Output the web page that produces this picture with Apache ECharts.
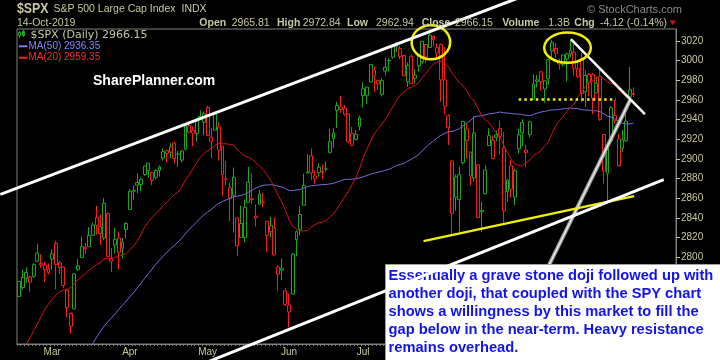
<!DOCTYPE html>
<html><head><meta charset="utf-8">
<script src="https://cdn.jsdelivr.net/npm/echarts@6/dist/echarts.min.js"></script>
<style>html,body{margin:0;padding:0;background:#000;}#c{width:720px;height:360px;}</style>
</head><body><div id="c"></div>
<script>
// ---------- data ----------
const dates = [
'2019-02-15','2019-02-19','2019-02-20','2019-02-21','2019-02-22','2019-02-25','2019-02-26','2019-02-27','2019-02-28',
'2019-03-01','2019-03-04','2019-03-05','2019-03-06','2019-03-07','2019-03-08','2019-03-11','2019-03-12','2019-03-13','2019-03-14','2019-03-15','2019-03-18','2019-03-19','2019-03-20','2019-03-21','2019-03-22','2019-03-25','2019-03-26','2019-03-27','2019-03-28','2019-03-29',
'2019-04-01','2019-04-02','2019-04-03','2019-04-04','2019-04-05','2019-04-08','2019-04-09','2019-04-10','2019-04-11','2019-04-12','2019-04-15','2019-04-16','2019-04-17','2019-04-18','2019-04-22','2019-04-23','2019-04-24','2019-04-25','2019-04-26','2019-04-29','2019-04-30',
'2019-05-01','2019-05-02','2019-05-03','2019-05-06','2019-05-07','2019-05-08','2019-05-09','2019-05-10','2019-05-13','2019-05-14','2019-05-15','2019-05-16','2019-05-17','2019-05-20','2019-05-21','2019-05-22','2019-05-23','2019-05-24','2019-05-28','2019-05-29','2019-05-30','2019-05-31',
'2019-06-03','2019-06-04','2019-06-05','2019-06-06','2019-06-07','2019-06-10','2019-06-11','2019-06-12','2019-06-13','2019-06-14','2019-06-17','2019-06-18','2019-06-19','2019-06-20','2019-06-21','2019-06-24','2019-06-25','2019-06-26','2019-06-27','2019-06-28',
'2019-07-01','2019-07-02','2019-07-03','2019-07-05','2019-07-08','2019-07-09','2019-07-10','2019-07-11','2019-07-12','2019-07-15','2019-07-16','2019-07-17','2019-07-18','2019-07-19','2019-07-22','2019-07-23','2019-07-24','2019-07-25','2019-07-26','2019-07-29','2019-07-30','2019-07-31',
'2019-08-01','2019-08-02','2019-08-05','2019-08-06','2019-08-07','2019-08-08','2019-08-09','2019-08-12','2019-08-13','2019-08-14','2019-08-15','2019-08-16','2019-08-19','2019-08-20','2019-08-21','2019-08-22','2019-08-23','2019-08-26','2019-08-27','2019-08-28','2019-08-29','2019-08-30',
'2019-09-03','2019-09-04','2019-09-05','2019-09-06','2019-09-09','2019-09-10','2019-09-11','2019-09-12','2019-09-13','2019-09-16','2019-09-17','2019-09-18','2019-09-19','2019-09-20','2019-09-23','2019-09-24','2019-09-25','2019-09-26','2019-09-27','2019-09-30',
'2019-10-01','2019-10-02','2019-10-03','2019-10-04','2019-10-07','2019-10-08','2019-10-09','2019-10-10','2019-10-11','2019-10-14'];

const opens = [
2760.24,2769.28,2779.05,2780.24,2780.67,2804.35,2792.36,2787.50,2788.11,
2798.22,2814.37,2794.41,2790.27,2766.53,2730.05,2747.61,2787.34,2799.78,2810.38,2810.79,2822.61,2840.76,2831.34,2819.72,2844.52,2796.01,2812.66,2819.72,2809.40,2828.27,
2848.63,2868.24,2876.09,2873.99,2884.16,2888.46,2886.58,2881.37,2891.92,2900.86,2908.32,2912.26,2916.04,2904.81,2898.78,2909.99,2934.00,2928.99,2925.81,2940.58,2937.14,
2952.33,2922.16,2929.21,2908.89,2913.03,2879.61,2859.84,2863.10,2840.19,2820.12,2820.38,2855.80,2858.60,2841.94,2854.02,2856.06,2836.70,2832.41,2830.03,2790.25,2786.94,2766.15,
2751.53,2762.64,2818.09,2828.51,2852.87,2885.83,2903.27,2882.73,2886.24,2886.82,2889.75,2906.71,2920.55,2949.60,2952.71,2951.42,2945.78,2926.07,2919.66,2932.94,
2971.41,2964.66,2978.08,2984.25,2979.77,2965.52,2989.30,2999.62,3003.36,3017.80,3012.13,3005.10,2978.87,3004.26,2981.93,2994.74,2998.77,3016.26,3013.25,3024.47,3007.66,3016.22,
2980.32,2943.90,2898.07,2861.18,2858.65,2896.21,2930.51,2907.07,2880.72,2894.15,2846.20,2864.74,2913.48,2919.01,2922.04,2930.94,2911.07,2866.70,2893.14,2861.28,2910.37,2937.09,
2909.01,2924.67,2960.60,2980.33,2988.43,2971.01,2981.41,3018.21,3012.21,2996.41,2995.67,3001.50,3010.36,3008.42,2983.50,3002.43,2968.35,2985.73,2985.47,2967.07,
2983.69,2924.78,2885.38,2918.56,2944.23,2920.40,2911.10,2918.55,2963.07,2965.81];

const highs = [
2775.66,2787.33,2789.88,2781.58,2794.20,2813.49,2803.12,2795.76,2793.73,
2808.02,2816.88,2796.44,2790.27,2767.25,2744.13,2784.00,2798.32,2821.24,2815.00,2830.73,2835.41,2852.42,2843.54,2860.31,2846.16,2809.79,2829.87,2825.56,2819.71,2836.03,
2869.40,2872.90,2885.25,2881.28,2893.24,2895.95,2886.88,2889.71,2893.42,2910.54,2909.60,2916.06,2918.00,2908.40,2909.51,2936.31,2936.83,2933.10,2939.88,2949.52,2948.22,
2954.13,2931.68,2947.85,2937.32,2913.03,2897.96,2875.97,2891.31,2840.19,2852.54,2858.68,2892.15,2885.48,2853.86,2868.88,2865.47,2836.70,2841.36,2840.51,2792.03,2799.00,2768.98,
2763.07,2804.49,2827.28,2852.10,2884.97,2904.77,2910.61,2888.57,2895.24,2894.45,2897.27,2930.79,2931.74,2958.06,2964.15,2954.92,2946.52,2932.59,2929.30,2943.98,
2977.93,2973.21,2995.84,2994.03,2980.76,2981.90,3002.98,3002.33,3013.92,3017.80,3015.02,3005.26,2998.28,3006.02,2990.71,3005.90,3019.59,3016.31,3027.98,3025.61,3017.19,3017.40,
3013.59,2945.50,2898.07,2884.40,2892.17,2938.72,2935.75,2907.58,2943.31,2894.15,2856.67,2893.63,2931.00,2923.63,2928.73,2939.08,2927.01,2879.27,2898.79,2890.03,2930.50,2940.43,
2914.39,2938.84,2985.86,2985.03,2989.43,2979.39,3000.93,3020.74,3017.33,3002.19,3006.21,3007.83,3021.19,3016.37,2999.15,3007.98,2989.82,2987.28,2987.31,2983.85,
2992.53,2924.78,2911.13,2953.74,2959.75,2925.47,2929.32,2948.46,2993.28,2972.84];

const lows = [
2760.24,2767.29,2774.06,2764.55,2779.11,2794.99,2789.47,2775.13,2782.51,
2787.38,2767.66,2782.97,2768.69,2739.09,2722.27,2747.61,2786.73,2799.78,2803.46,2810.79,2821.99,2823.27,2812.43,2817.38,2800.47,2785.02,2803.99,2787.72,2798.77,2819.23,
2848.63,2858.75,2865.17,2867.14,2882.99,2880.78,2873.33,2879.13,2881.99,2898.37,2896.48,2900.71,2895.45,2891.90,2896.35,2908.53,2926.05,2912.84,2917.56,2939.35,2924.11,
2923.36,2900.50,2929.21,2898.21,2862.60,2873.28,2836.40,2825.39,2801.43,2820.12,2815.08,2855.80,2854.23,2831.29,2854.02,2851.11,2805.49,2820.19,2801.58,2766.06,2776.74,2750.52,
2728.81,2762.64,2800.92,2822.45,2852.87,2885.51,2878.53,2874.68,2881.99,2879.62,2887.30,2905.44,2911.43,2931.50,2946.87,2944.05,2916.01,2912.99,2918.57,2929.05,
2952.22,2955.92,2977.96,2967.97,2970.09,2963.44,2984.62,2988.80,3001.87,3008.77,3001.15,2984.25,2973.09,2975.86,2976.65,2988.56,2996.82,2997.24,3012.59,3014.30,3000.94,2958.08,
2945.23,2914.11,2822.12,2847.42,2825.71,2894.47,2900.15,2873.14,2877.05,2839.64,2825.51,2864.74,2913.48,2899.60,2917.91,2904.51,2834.97,2856.00,2860.59,2853.05,2905.67,2913.32,
2891.85,2921.86,2960.60,2972.51,2969.39,2957.01,2975.31,3000.92,3002.90,2990.67,2993.73,2978.57,3003.16,2984.68,2982.23,2957.73,2952.86,2963.71,2945.53,2967.07,
2938.70,2874.93,2855.94,2918.56,2935.68,2892.66,2907.41,2917.12,2963.07,2962.94];

const closes = [
2775.60,2779.76,2784.70,2774.88,2792.67,2796.11,2793.90,2792.38,2784.49,
2803.69,2792.81,2789.65,2771.45,2748.93,2743.07,2783.30,2791.52,2810.92,2808.48,2822.48,2832.94,2832.57,2824.23,2854.88,2800.71,2798.36,2818.46,2805.37,2815.44,2834.40,
2867.19,2867.24,2873.40,2879.39,2892.74,2895.77,2878.20,2888.21,2888.32,2907.41,2905.58,2907.06,2900.45,2905.03,2907.97,2933.68,2927.25,2926.17,2939.88,2943.03,2945.83,
2923.73,2917.52,2945.64,2932.47,2884.05,2879.42,2870.72,2881.40,2811.87,2834.41,2850.96,2876.32,2859.53,2840.23,2864.36,2856.27,2822.24,2826.06,2802.39,2783.02,2788.86,2752.06,
2744.45,2803.27,2826.15,2843.49,2873.34,2886.73,2885.72,2879.84,2891.64,2886.98,2889.67,2917.75,2926.46,2954.18,2950.46,2945.35,2917.38,2913.78,2924.92,2941.76,
2964.33,2973.01,2995.82,2990.41,2975.95,2979.63,2993.07,2999.91,3013.77,3014.30,3004.04,2984.42,2995.11,2976.61,2985.03,3005.47,3019.56,3003.67,3025.86,3020.97,3013.18,2980.38,
2953.56,2932.05,2844.74,2881.77,2883.98,2938.09,2918.65,2882.70,2926.32,2840.60,2847.60,2888.68,2923.65,2900.51,2924.43,2922.95,2847.11,2878.38,2869.16,2887.94,2924.58,2926.46,
2906.27,2937.78,2976.00,2978.71,2978.43,2979.39,3000.93,3009.57,3007.39,2997.96,3005.70,3006.73,3006.79,2992.07,2991.78,2966.60,2984.87,2977.62,2961.79,2976.74,
2940.25,2887.61,2910.63,2952.01,2938.79,2893.06,2919.40,2938.13,2970.27,2966.15];

const prevClose = 2745.73; // close of the day before the first candle (sets first candle colour)

const ma20 = [
2698.3,2703.7,2711.3,2718.1,2725.7,2732.2,2739.7,2747.3,2752.5,2757.5,
2761.8,2765.0,2766.7,2767.5,2769.4,2773.1,2777.2,2780.5,2783.3,2787.1,
2789.9,2792.6,2794.5,2798.5,2798.9,2799.0,2800.2,2800.9,2802.4,2803.9,
2807.6,2811.5,2816.6,2823.1,2830.6,2836.2,2840.5,2844.4,2848.4,2852.6,
2856.3,2860.0,2863.8,2866.3,2871.6,2878.4,2883.9,2889.9,2896.2,2901.6,
2905.6,2908.4,2910.7,2914.0,2916.0,2915.4,2915.4,2914.6,2914.2,2909.5,
2905.9,2903.1,2901.9,2899.6,2896.2,2892.7,2889.2,2884.0,2878.3,2871.2,
2863.1,2856.3,2848.0,2837.9,2831.5,2828.6,2826.8,2826.9,2827.2,2830.9,
2833.2,2835.2,2835.8,2837.3,2841.2,2844.3,2849.2,2855.6,2861.5,2867.3,
2873.8,2880.6,2890.1,2901.1,2909.6,2918.1,2925.5,2930.6,2935.3,2940.6,
2946.6,2952.7,2959.1,2964.8,2968.1,2971.5,2972.7,2974.4,2977.4,2982.6,
2987.1,2992.1,2996.1,2998.5,2998.9,2996.8,2993.9,2987.3,2982.4,2977.0,
2973.9,2969.1,2962.6,2958.7,2951.5,2944.2,2939.8,2936.7,2931.5,2926.7,
2922.7,2913.7,2906.6,2899.4,2894.8,2893.3,2893.0,2896.1,2898.9,2903.5,
2905.5,2908.5,2913.3,2917.0,2925.5,2933.4,2938.9,2943.0,2948.3,2952.4,
2955.9,2963.1,2967.6,2973.4,2977.9,2979.7,2982.3,2984.0,2981.5,2978.2,
2976.9,2974.9,2970.6,2966.5,2962.9,2961.1,2959.4];

const ma50 = [
2615.8,2617.4,2619.2,2622.1,2625.2,2628.3,2631.2,2634.0,2637.7,2642.9,
2647.8,2653.5,2659.5,2666.2,2674.0,2680.3,2686.4,2692.9,2698.9,2705.1,
2712.8,2718.9,2724.3,2730.0,2734.3,2738.3,2742.7,2747.2,2751.3,2755.6,
2760.3,2764.2,2769.0,2773.8,2778.8,2783.4,2788.1,2793.1,2797.2,2801.3,
2805.2,2808.9,2812.1,2815.6,2819.6,2824.1,2828.5,2832.1,2835.8,2839.8,
2843.2,2846.1,2848.7,2852.1,2854.9,2856.7,2858.4,2860.0,2861.9,2862.1,
2862.9,2864.1,2866.2,2868.4,2870.4,2872.0,2873.3,2873.5,2873.8,2873.4,
2872.4,2871.6,2870.1,2867.9,2867.9,2868.5,2869.0,2870.4,2871.8,2872.8,
2873.1,2873.6,2873.9,2874.1,2874.6,2875.2,2876.7,2878.0,2879.1,2879.3,
2879.5,2879.8,2880.7,2881.8,2883.1,2884.4,2885.6,2886.6,2887.4,2888.4,
2889.5,2891.3,2893.2,2894.4,2895.4,2897.7,2899.6,2901.9,2904.4,2908.5,
2911.9,2915.4,2918.3,2921.4,2924.2,2926.0,2927.5,2928.0,2929.1,2930.7,
2933.8,2936.4,2939.1,2942.7,2943.5,2943.9,2944.8,2945.8,2946.1,2946.9,
2947.7,2946.8,2946.7,2946.2,2945.6,2945.6,2945.1,2944.2,2944.0,2945.2,
2946.5,2947.6,2948.3,2949.1,2949.8,2950.0,2950.2,2950.8,2951.3,2951.6,
2951.4,2951.0,2950.1,2949.7,2949.6,2948.9,2948.9,2948.0,2945.7,2943.5,
2942.4,2940.7,2938.1,2936.3,2935.4,2935.7,2936.35];

const padDays = ['p1','p2','p3','p4','p5','p6','p7','p8','p9','p10','p11']; // empty space right of last bar
const yTicks = [2800,2820,2840,2860,2880,2900,2920,2940,2960,2980,3000,3020];
const monthNames = {'01':'Jan','02':'Feb','03':'Mar','04':'Apr','05':'May','06':'Jun','07':'Jul','08':'Aug','09':'Sep','10':'Oct','11':'Nov','12':'Dec'};

// annotation drawings in data terms: [category index, price]
const upperChannel = [[-5, 2864], [136, 3065]];
const lowerChannel = [[49.1, 2690.9], [174.2, 2879.0]];
const resistanceLine = [[149.1, 3021.6], [169.1, 2945.5]];
const steepLine = [[130.6, 2695.7], [165.1, 2959.7]];
const supportLine = [[109.3, 2816.5], [166.2, 2862.2]];
const gapLine = [[135.0, 2960.4], [161.3, 2960.4]];
const circles = [[111.3, 3018.6, 5.2, 17.3], [148.2, 3013.0, 6.3, 15.4]]; // idx, price, radius(days), radius(points)

const noteLines = [
'Essentially a grave stone doji followed up with',
'another doji, that coupled with the SPY chart',
'shows a willingness by this market to fill the',
'gap below in the near-term. Heavy resistance',
'remains overhead.'];
const legendMA50 = '2936.35', legendMA20 = '2959.35', volumeText = '1.3B';

// ---------- chart ----------
const GREEN = '#1aa81a', RED = '#ff1a1a', TAN = '#c8c8a2';
const cats = dates.concat(padDays);
const candleData = closes.map((c, i) => {
  const ref = i === 0 ? prevClose : closes[i - 1];
  const col = c >= ref ? GREEN : RED;
  return { value: [opens[i], c, lows[i], highs[i]],
    itemStyle: { color: '#000', color0: col, borderColor: col, borderColor0: col, borderColorDoji: col, borderWidth: 1 } };
});
const isMonthStart = (idx) => idx > 0 && idx < dates.length && dates[idx].slice(5, 7) !== dates[idx - 1].slice(5, 7);

const chart = echarts.init(document.getElementById('c'), null, { renderer: 'canvas' });
chart.setOption({
  backgroundColor: '#000',
  animation: false,
  grid: { left: 17, right: 44, top: 29, bottom: 16, show: true, borderColor: '#808080', borderWidth: 1, backgroundColor: '#000' },
  xAxis: {
    type: 'category', data: cats, boundaryGap: true,
    axisLine: { lineStyle: { color: '#808080' } },
    axisTick: { show: true, interval: 0, length: 2, lineStyle: { color: '#808080' } },
    axisLabel: {
      interval: (idx) => isMonthStart(idx),
      formatter: (val) => monthNames[val.slice(5, 7)] || '',
      color: TAN, fontSize: 10, fontFamily: 'Liberation Sans', margin: 3
    },
    splitLine: { show: false }
  },
  yAxis: {
    type: 'value', position: 'right', min: 2712, max: 3032,
    axisLine: { show: true, lineStyle: { color: '#808080' } },
    axisTick: { show: true, length: 4, customValues: yTicks, lineStyle: { color: TAN } },
    axisLabel: { customValues: yTicks, formatter: (v) => String(v), color: TAN, fontSize: 10, fontFamily: 'Liberation Sans', margin: 5 },
    splitLine: { show: false }
  },
  series: [
    { type: 'candlestick', data: candleData, barWidth: 3.4, z: 3 },
    { type: 'line', data: ma50, symbol: 'none', lineStyle: { color: '#7070dc', width: 1 }, z: 4 },
    { type: 'line', data: ma20, symbol: 'none', lineStyle: { color: '#d41414', width: 1 }, z: 4 }
  ]
});

// ---------- overlays ----------
const p0 = chart.convertToPixel({ gridIndex: 0 }, [0, 2800]);
const p1 = chart.convertToPixel({ gridIndex: 0 }, [100, 3000]);
const sx = (p1[0] - p0[0]) / 100, sy = (p1[1] - p0[1]) / 200;
const P = (pt) => [p0[0] + pt[0] * sx, p0[1] + (pt[1] - 2800) * sy];
const seg = (pts, stroke, w, z, dash) => {
  const a = P(pts[0]), b = P(pts[1]);
  return { type: 'line', z: z, silent: true,
    shape: { x1: a[0], y1: a[1], x2: b[0], y2: b[1] },
    style: { stroke: stroke, lineWidth: w, lineDash: dash || null, lineCap: 'butt' } };
};
const txt = (x, y, text, font, fill, z, scaleX) => ({ type: 'text', x: x, y: y, z: z || 200, silent: true,
  scaleX: scaleX || 1,
  style: { text: text, font: font, fill: fill, align: 'left', verticalAlign: 'middle' } });

const last = closes.length - 1;
const chg = closes[last] - closes[last - 1];
const pct = chg / closes[last - 1] * 100;
const F = '"Liberation Sans", Arial, sans-serif';
const DV = '"DejaVu Sans", Verdana, sans-serif';
const g = [];

// header
g.push(txt(17, 9.5, '$SPX', 'bold 14px ' + F, TAN, 200, 0.88));
g.push(txt(53.5, 9.5, 'S&P 500 Large Cap Index', '10.5px ' + F, TAN));
g.push(txt(181.5, 9.5, 'INDX', '10.5px ' + F, TAN));
g.push(txt(587, 9.5, '\u00A9 StockCharts.com', '11px ' + F, '#8a8a8a'));
g.push(txt(17, 22.7, '14-Oct-2019', '10.5px ' + F, TAN));
g.push(txt(199.3, 22.7, 'Open', 'bold 10.5px ' + F, TAN));
g.push(txt(231.7, 22.7, opens[last].toFixed(2), '10.5px ' + F, TAN));
g.push(txt(277, 22.7, 'High', 'bold 10.5px ' + F, TAN));
g.push(txt(302.7, 22.7, highs[last].toFixed(2), '10.5px ' + F, TAN));
g.push(txt(347, 22.7, 'Low', 'bold 10.5px ' + F, TAN));
g.push(txt(376, 22.7, lows[last].toFixed(2), '10.5px ' + F, TAN));
g.push(txt(421.7, 22.7, 'Close', 'bold 10.5px ' + F, TAN));
g.push(txt(455, 22.7, closes[last].toFixed(2), '10.5px ' + F, TAN));
g.push(txt(502.3, 22.7, 'Volume', 'bold 10.5px ' + F, TAN));
g.push(txt(548.3, 22.7, volumeText, '10.5px ' + F, TAN));
g.push(txt(574.3, 22.7, 'Chg', 'bold 10.5px ' + F, TAN));
g.push(txt(600, 22.7, chg.toFixed(2) + ' (' + pct.toFixed(2) + '%)', '10.5px ' + F, TAN));
g.push({ type: 'polygon', z: 200, silent: true, shape: { points: [[669.5, 20.5], [676, 20.5], [672.75, 25]] }, style: { fill: '#e01010' } });

// legend
g.push({ type: 'line', z: 200, silent: true, shape: { x1: 19.5, y1: 31, x2: 19.5, y2: 38 }, style: { stroke: GREEN, lineWidth: 1 } });
g.push({ type: 'rect', z: 200, silent: true, shape: { x: 18.5, y: 32.5, width: 2, height: 3 }, style: { fill: '#000', stroke: GREEN, lineWidth: 1 } });
g.push({ type: 'line', z: 200, silent: true, shape: { x1: 23.5, y1: 30, x2: 23.5, y2: 37 }, style: { stroke: GREEN, lineWidth: 1 } });
g.push({ type: 'rect', z: 200, silent: true, shape: { x: 22.5, y: 31.5, width: 2, height: 4 }, style: { fill: GREEN, stroke: GREEN, lineWidth: 1 } });
g.push(txt(30.5, 35, '$SPX (Daily) ' + closes[last].toFixed(2), '11px ' + DV, TAN));
g.push({ type: 'line', z: 200, silent: true, shape: { x1: 19, y1: 46.3, x2: 27.5, y2: 46.3 }, style: { stroke: '#7d7dff', lineWidth: 2 } });
g.push(txt(28.5, 46.3, 'MA(50) ' + legendMA50, '10px ' + F, '#8585ff'));
g.push({ type: 'line', z: 200, silent: true, shape: { x1: 19, y1: 57.7, x2: 27.5, y2: 57.7 }, style: { stroke: '#ff2020', lineWidth: 2 } });
g.push(txt(28.5, 57.7, 'MA(20) ' + legendMA20, '10px ' + F, '#ff2a2a'));
g.push(txt(93, 81, 'SharePlanner.com', 'bold 14px ' + F, '#ffffff'));

// drawings
g.push(seg(steepLine, '#9a9a9a', 4, 90));
g.push(seg(steepLine, '#e6e6e6', 1.5, 91));
g.push(seg(supportLine, '#f0f000', 2.5, 95));
g.push(seg(gapLine, '#f0f000', 2.5, 95, [2.5, 3.2]));
g.push(seg(resistanceLine, '#ffffff', 2.5, 95));
circles.forEach(c => {
  const ctr = P([c[0], c[1]]);
  g.push({ type: 'ellipse', z: 95, silent: true,
    shape: { cx: ctr[0], cy: ctr[1], rx: Math.abs(c[2] * sx), ry: Math.abs(c[3] * sy) },
    style: { fill: null, stroke: '#f0f000', lineWidth: 2.5 } });
});

// note box
g.push({ type: 'rect', z: 100, silent: true, shape: { x: 385.5, y: 264.5, width: 340, height: 100 }, style: { fill: '#ffffff', stroke: '#a0a0a0', lineWidth: 1 } });
noteLines.forEach((t, k) => g.push(txt(388.5, 275.5 + k * 18.2, t, 'bold 14.7px ' + F, '#1212ee', 105)));

// channel lines on top
g.push(seg(upperChannel, '#ffffff', 3, 110));
g.push(seg(lowerChannel, '#ffffff', 3, 110));

chart.setOption({ graphic: { elements: g } });
</script>
</body></html>
